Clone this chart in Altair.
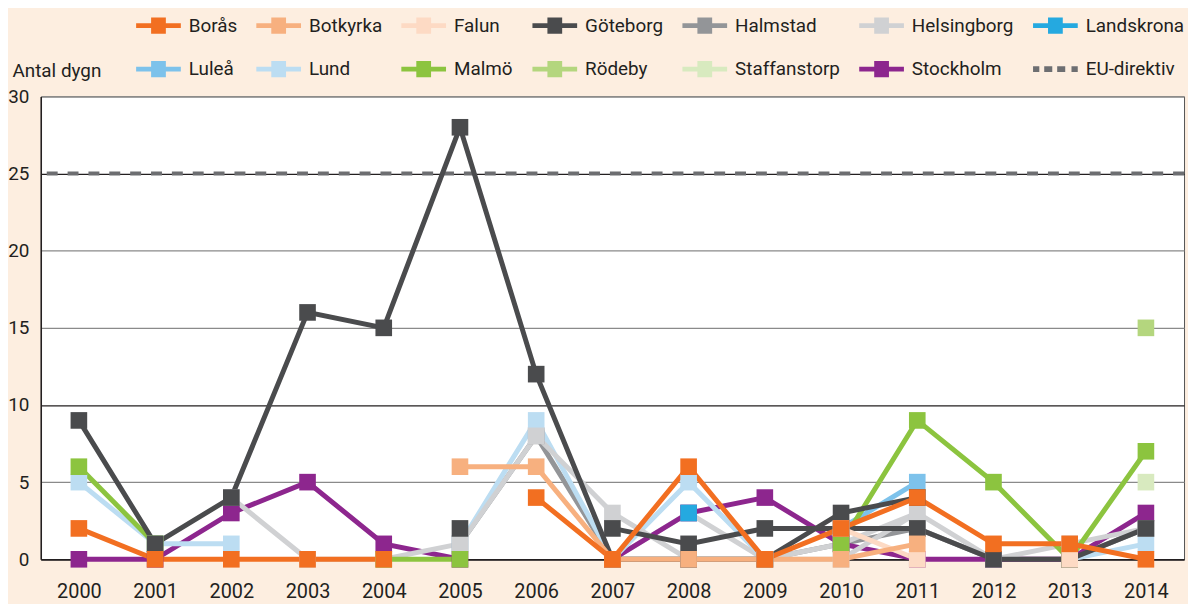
import altair as alt
import pandas as pd

N = None
years = list(range(2000, 2015))

# values per city (None = no measurement)
boras        = [2, 0, 0, 0, 0, N, 4, 0, 6, 0, 2, 4, 1, 1, 0]
botkyrka     = [N, N, N, N, N, 6, 6, 0, 0, 0, 0, 1, N, N, N]
falun        = [N, N, N, N, N, N, N, N, N, N, 2, 0, N, 0, N]
goteborg     = [9, 1, 4, 16, 15, 28, 12, 0, 0, 0, 3, 4, N, N, N]
goteborg_b   = [N, N, N, N, N, 2, N, 2, 1, 2, 2, 2, 0, 0, 2]
halmstad     = [N, N, N, N, N, 1, 8, 0, 0, 0, 1, 2, 0, 0, 2]
helsingborg  = [N, N, 4, 0, 0, 1, 8, 3, 0, 0, 0, 3, 0, 1, 2]
helsingborg_b = [N, N, N, N, N, N, N, 0, 3, 0, 1, 3, N, N, N]
landskrona   = [N, N, N, N, N, N, N, N, 3, N, N, N, N, N, N]
lulea        = [N, N, N, N, N, N, N, N, N, N, 2, 5, N, N, N]
lund         = [5, 1, 1, N, N, 1, 9, 0, 5, 0, N, N, N, 0, 1]
malmo        = [6, 1, N, N, 0, 0, N, N, N, N, 1, 9, 5, 0, 7]
rodeby       = [N, N, N, N, N, N, N, N, N, N, N, N, N, N, 15]
staffanstorp = [N, N, N, N, N, N, N, N, N, N, N, N, N, N, 5]
stockholm    = [0, 0, 3, 5, 1, 0, N, 0, 3, 4, 1, 0, 0, 0, 3]
eu_limit = 25

cities = ["Borås", "Botkyrka", "Falun", "Göteborg", "Halmstad", "Helsingborg",
          "Landskrona", "Luleå", "Lund", "Malmö", "Rödeby", "Staffanstorp",
          "Stockholm", "EU-direktiv"]
colors = ["#F26F21", "#F7B07F", "#FDDAC4", "#4A4B4D", "#939598", "#D0D1D3",
          "#25A9E0", "#7DC2EB", "#BCDDF2", "#8CC43F", "#B4D67E", "#D8EABF",
          "#8D268E", "#6D6E71"]

# drawing order: bottom first
series = [
    ("Halmstad", "Halmstad", halmstad),
    ("Helsingborg B", "Helsingborg", helsingborg_b),
    ("Stockholm", "Stockholm", stockholm),
    ("Staffanstorp", "Staffanstorp", staffanstorp),
    ("Rödeby", "Rödeby", rodeby),
    ("Lund", "Lund", lund),
    ("Luleå", "Luleå", lulea),
    ("Landskrona", "Landskrona", landskrona),
    ("Helsingborg", "Helsingborg", helsingborg),
    ("Malmö", "Malmö", malmo),
    ("Göteborg B", "Göteborg", goteborg_b),
    ("Göteborg", "Göteborg", goteborg),
    ("Falun", "Falun", falun),
    ("Botkyrka", "Botkyrka", botkyrka),
    ("Borås", "Borås", boras),
]

rows = []
for sid, city, vals in series:
    seg = 0
    for yr, v in zip(years, vals):
        if v is None:
            seg += 1
            continue
        rows.append({"series": f"{sid}#{seg}", "city": city, "year": yr, "value": v})
df = pd.DataFrame(rows)
df_eu = pd.DataFrame({"city": ["EU-direktiv"], "value": [eu_limit]})

SQL = ("M-1,-0.11L1,-0.11L1,0.11L-1,0.11Z"
       "M-0.33,-0.36L0.33,-0.36L0.33,0.36L-0.33,0.36Z")
DASH = ("M-1,-0.13L-0.72,-0.13L-0.72,0.13L-1,0.13Z"
        "M-0.5,-0.13L-0.14,-0.13L-0.14,0.13L-0.5,0.13Z"
        "M0.08,-0.13L0.44,-0.13L0.44,0.13L0.08,0.13Z"
        "M0.72,-0.13L1,-0.13L1,0.13L0.72,0.13Z")

FONT = "Roboto"
TXT = "#231F20"

legend = alt.Legend(
    orient="none", legendX=96, legendY=-94, direction="horizontal", columns=7,
    columnPadding=19, rowPadding=11, symbolSize=2025, labelFont=FONT,
    labelFontSize=19, labelColor=TXT, labelOffset=8, labelLimit=300,
    symbolType={"expr": f"datum.value === 'EU-direktiv' ? '{DASH}' : '{SQL}'"},
    symbolFillColor={"expr": "scale('color', datum.value)"},
    symbolStrokeWidth=0, symbolOpacity=1,
)
color = alt.Color("city:N", title=None,
                  scale=alt.Scale(domain=cities, range=colors), legend=legend)

x = alt.X("year:O", scale=alt.Scale(type="point", padding=0.5),
          axis=alt.Axis(title=None, labelAngle=0, labelFont=FONT, labelFontSize=20,
                        labelColor=TXT, ticks=False, labelPadding=22,
                        domain=True, domainColor=TXT, domainWidth=1.5, grid=False))
yscale = alt.Scale(domain=[0, 30], nice=False)
yaxis = alt.Axis(title="Antal dygn", titleAngle=0, titleX=-29, titleY=-26,
                 titleAlign="left", titleBaseline="middle", titleFont=FONT,
                 titleFontSize=19, titleFontWeight="normal", titleColor=TXT,
                 values=[0, 5, 10, 15, 20, 25, 30], labelFont=FONT, labelFontSize=19,
                 labelColor=TXT, ticks=False, labelPadding=12, domain=True,
                 domainColor=TXT, domainWidth=1.5, grid=True,
                 gridColor={"condition": {"test": "datum.value == 10 || datum.value == 25 || datum.value == 0",
                                          "value": "#231F20"}, "value": "#8A8A8A"},
                 gridWidth=1.3)

rule = alt.Chart(df_eu).mark_rule(strokeWidth=4, strokeDash=[11, 10]).encode(
    y=alt.Y("value:Q", scale=yscale, axis=yaxis), color=color)

lines = alt.Chart(df).mark_line(strokeWidth=5).encode(
    x=x, y=alt.Y("value:Q", scale=yscale, axis=yaxis), color=color,
    detail="series:N")

points = alt.Chart(df).mark_square(size=280, opacity=1, filled=True).encode(
    x=x, y=alt.Y("value:Q", scale=yscale, axis=yaxis), color=color)

chart = alt.layer(rule, lines, points).properties(
    width=1151, height=466,
    autosize=alt.AutoSizeParams(type="none"),
    padding={"left": 33, "top": 87, "right": 4, "bottom": 43},
    background="#FDEEE0",
).configure_view(fill="white", stroke="#555555", strokeWidth=1)

chart.save("out.html", embed_options={"renderer": "svg", "actions": False})
